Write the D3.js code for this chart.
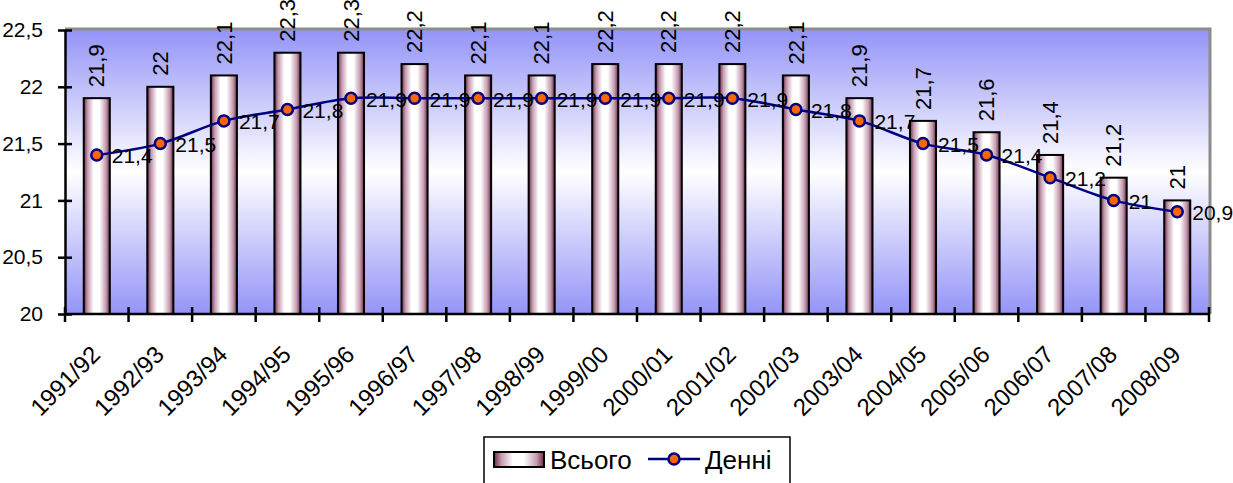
<!DOCTYPE html>
<html lang="uk">
<head>
<meta charset="UTF-8"/>
<title>Всього / Денні</title>
<script src="https://d3js.org/d3.v7.min.js"></script>
<style>
  body { margin: 0; background: #fff; }
  svg text { font-family: "Liberation Sans", Arial, sans-serif; fill: #000; }
</style>
</head>
<body>
<div id="chart"></div>
<script>
    // Data
    var years = ["1991/92", "1992/93", "1993/94", "1994/95", "1995/96", "1996/97", "1997/98", "1998/99", "1999/00",
                 "2000/01", "2001/02", "2002/03", "2003/04", "2004/05", "2005/06", "2006/07", "2007/08", "2008/09"];
    var totalValues = [21.9, 22, 22.1, 22.3, 22.3, 22.2, 22.1, 22.1, 22.2, 22.2, 22.2, 22.1, 21.9, 21.7, 21.6, 21.4, 21.2, 21];
    var dayValues = [21.4, 21.5, 21.7, 21.8, 21.9, 21.9, 21.9, 21.9, 21.9, 21.9, 21.9, 21.8, 21.7, 21.5, 21.4, 21.2, 21, 20.9];
    var yTicks = [20, 20.5, 21, 21.5, 22, 22.5];
    var seriesNames = ["Всього", "Денні"];

    var w = 1233, h = 483;
    var pLeft = 65, pRight = 1209, pTop = 30, pBottom = 314;
    var fs = "21px";

    var fmt = function(d) { return String(d).replace(".", ","); };

    var svg = d3.select("#chart").append("svg")
        .attr("width", w)
        .attr("height", h);

    var defs = svg.append("defs");

    //plot background gradient
    var bg = defs.append("linearGradient").attr("id", "bg")
        .attr("x1", 0).attr("y1", 0).attr("x2", 0).attr("y2", 1);
    bg.append("stop").attr("offset", "0%").attr("stop-color", "#9494f8");
    bg.append("stop").attr("offset", "50%").attr("stop-color", "#ffffff");
    bg.append("stop").attr("offset", "100%").attr("stop-color", "#9494f8");

    //bar gradient
    var bar = defs.append("linearGradient").attr("id", "barGrad")
        .attr("x1", 0).attr("y1", 0).attr("x2", 1).attr("y2", 0);
    [[0, "#6e2a4c"], [0.15, "#c49cb0"], [0.38, "#ffffff"], [0.6, "#ffffff"], [0.85, "#c49cb0"], [1, "#6e2a4c"]]
        .forEach(function(s) {
            bar.append("stop").attr("offset", s[0]).attr("stop-color", s[1]);
        });

    var xScale = d3.scaleBand()
        .domain(years)
        .range([pLeft, pRight]);

    var yScale = d3.scaleLinear()
        .domain([20, 22.5])
        .range([pBottom, pTop]);

    var bw = xScale.bandwidth() * 0.41;
    var cx = function(d) { return xScale(d) + xScale.bandwidth() / 2; };

    //plot area
    svg.append("rect")
        .attr("x", pLeft).attr("y", pTop)
        .attr("width", pRight - pLeft).attr("height", pBottom - pTop)
        .attr("fill", "url(#bg)");
    svg.append("path")
        .attr("d", "M" + pLeft + "," + (pTop - 1) + "H" + (pRight + 1) + "V" + pBottom)
        .attr("fill", "none")
        .attr("stroke", "#8c8c8c")
        .attr("stroke-width", 3);

    //bars
    svg.selectAll("rect.bar")
        .data(totalValues)
        .enter()
        .append("rect")
        .attr("class", "bar")
        .attr("x", function(d, i) { return cx(years[i]) - bw / 2; })
        .attr("y", function(d) { return yScale(d); })
        .attr("width", bw)
        .attr("height", function(d) { return pBottom - yScale(d); })
        .attr("fill", "url(#barGrad)")
        .attr("stroke", "#000")
        .attr("stroke-width", 2);

    //bar labels
    svg.selectAll("text.blab")
        .data(totalValues)
        .enter()
        .append("text")
        .attr("class", "blab")
        .attr("transform", function(d, i) {
            return "translate(" + cx(years[i]) + "," + (yScale(d) - 11) + ") rotate(-90)";
        })
        .attr("dy", "0.35em")
        .attr("font-size", "22px")
        .text(function(d) { return fmt(d); });

    //line
    var line = d3.line()
        .x(function(d, i) { return cx(years[i]); })
        .y(function(d) { return yScale(d); })
        .curve(d3.curveCatmullRom.alpha(0.5));

    svg.append("path")
        .datum(dayValues)
        .attr("d", line)
        .attr("fill", "none")
        .attr("stroke", "#000080")
        .attr("stroke-width", 2.5);

    svg.selectAll("circle.pt")
        .data(dayValues)
        .enter()
        .append("circle")
        .attr("class", "pt")
        .attr("cx", function(d, i) { return cx(years[i]); })
        .attr("cy", function(d) { return yScale(d); })
        .attr("r", 5.5)
        .attr("fill", "#ff6600")
        .attr("stroke", "#000080")
        .attr("stroke-width", 2.5);

    svg.selectAll("text.llab")
        .data(dayValues)
        .enter()
        .append("text")
        .attr("class", "llab")
        .attr("x", function(d, i) { return cx(years[i]) + 15; })
        .attr("y", function(d) { return yScale(d) + 1; })
        .attr("dy", "0.35em")
        .attr("font-size", fs)
        .text(function(d) { return fmt(d); });

    //axes
    var yAxis = d3.axisLeft(yScale)
        .tickValues(yTicks)
        .tickSizeInner(7)
        .tickSizeOuter(0)
        .tickPadding(15)
        .tickFormat(fmt);
    var gy = svg.append("g")
        .attr("transform", "translate(" + pLeft + ",0)")
        .call(yAxis);
    gy.select(".domain").attr("stroke", "#000").attr("stroke-width", 2.5);
    gy.selectAll(".tick line").attr("x1", 7).attr("x2", -7).attr("stroke", "#000").attr("stroke-width", 2.5);
    gy.selectAll(".tick text").attr("font-size", fs).attr("font-family", null);

    var xb = years.map(function(d) { return xScale(d); }).concat([pRight]);
    var gx = svg.append("g");
    gx.append("line")
        .attr("x1", pLeft).attr("x2", pRight)
        .attr("y1", pBottom).attr("y2", pBottom)
        .attr("stroke", "#000").attr("stroke-width", 2.5);
    gx.selectAll("line.tk")
        .data(xb)
        .enter()
        .append("line")
        .attr("class", "tk")
        .attr("x1", function(d) { return d; }).attr("x2", function(d) { return d; })
        .attr("y1", pBottom - 7).attr("y2", pBottom + 8)
        .attr("stroke", "#000").attr("stroke-width", 2.5);
    gx.selectAll("text")
        .data(years)
        .enter()
        .append("text")
        .attr("transform", function(d) {
            return "translate(" + (cx(d) + 5) + "," + (pBottom + 42) + ") rotate(-45)";
        })
        .attr("text-anchor", "end")
        .attr("font-size", "24px")
        .text(function(d) { return d; });

    //legend
    var lg = svg.append("g");
    lg.append("rect")
        .attr("x", 484).attr("y", 437)
        .attr("width", 306).attr("height", 60)
        .attr("fill", "#fff")
        .attr("stroke", "#000")
        .attr("stroke-width", 1.5);
    lg.append("rect")
        .attr("x", 494).attr("y", 452)
        .attr("width", 50).attr("height", 15)
        .attr("fill", "url(#barGrad)")
        .attr("stroke", "#000")
        .attr("stroke-width", 2);
    lg.append("text")
        .attr("x", 550).attr("y", 460)
        .attr("dy", "0.35em")
        .attr("font-size", "26px")
        .text(seriesNames[0]);
    lg.append("line")
        .attr("x1", 648).attr("x2", 700)
        .attr("y1", 459).attr("y2", 459)
        .attr("stroke", "#000080").attr("stroke-width", 2.5);
    lg.append("circle")
        .attr("cx", 674).attr("cy", 459).attr("r", 5.5)
        .attr("fill", "#ff6600")
        .attr("stroke", "#000080").attr("stroke-width", 2.5);
    lg.append("text")
        .attr("x", 705).attr("y", 460)
        .attr("dy", "0.35em")
        .attr("font-size", "26px")
        .text(seriesNames[1]);
</script>
</body>
</html>
